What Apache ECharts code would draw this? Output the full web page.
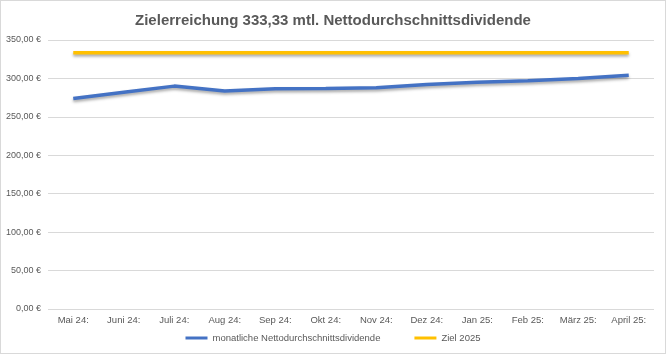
<!DOCTYPE html>
<html>
<head>
<meta charset="utf-8">
<script src="https://cdn.jsdelivr.net/npm/echarts@6/dist/echarts.min.js"></script>
<style>
  html, body { margin: 0; padding: 0; background: #fff; }
  #main { width: 664px; height: 352px; border: 1px solid #d9d9d9; }
</style>
</head>
<body>
<div id="main"></div>
<script>
var months = ['Mai 24:', 'Juni 24:', 'Juli 24:', 'Aug 24:', 'Sep 24:', 'Okt 24:', 'Nov 24:',
    'Dez 24:', 'Jan 25:', 'Feb 25:', 'März 25:', 'April 25:'];
var dividende = [274, 282, 290, 283.5, 286.5, 287, 288, 292, 295, 297, 300, 304];
var ziel = [333.33, 333.33, 333.33, 333.33, 333.33, 333.33, 333.33, 333.33, 333.33, 333.33, 333.33, 333.33];

var font = '"Liberation Sans", sans-serif';
var myChart = echarts.init(document.getElementById('main'));
var option = {
    animation: false,
    title: {
        text: 'Zielerreichung 333,33 mtl. Nettodurchschnittsdividende',
        left: 'center',
        top: 7,
        textStyle: { fontFamily: font, fontSize: 15, fontWeight: 'bold', color: '#595959' }
    },
    legend: {
        bottom: 5,
        left: 'center',
        itemWidth: 22,
        itemHeight: 3,
        itemGap: 34,
        icon: 'rect',
        textStyle: { fontFamily: font, fontSize: 9.5, color: '#595959' },
        data: ['monatliche Nettodurchschnittsdividende', 'Ziel 2025']
    },
    grid: { left: 47, right: 11, top: 39, bottom: 44 },
    xAxis: {
        type: 'category',
        data: months,
        axisLine: { show: false },
        axisTick: { show: false },
        axisLabel: { fontFamily: font, fontSize: 9.5, color: '#595959', margin: 6, interval: 0 }
    },
    yAxis: {
        type: 'value',
        min: 0,
        max: 350,
        interval: 50,
        axisLabel: {
            fontFamily: font, fontSize: 9, color: '#595959', margin: 7,
            formatter: function (v) { return v.toFixed(2).replace('.', ',') + ' €'; }
        },
        splitLine: { lineStyle: { color: '#d9d9d9', width: 1 } }
    },
    series: [
        {
            name: 'monatliche Nettodurchschnittsdividende',
            type: 'line',
            data: dividende,
            symbol: 'none',
            color: '#4472C4',
            lineStyle: { width: 3.5, color: '#4472C4', shadowColor: 'rgba(0,0,0,0.35)', shadowBlur: 3, shadowOffsetY: 2 }
        },
        {
            name: 'Ziel 2025',
            type: 'line',
            data: ziel,
            symbol: 'none',
            color: '#FFC000',
            lineStyle: { width: 3.5, color: '#FFC000', shadowColor: 'rgba(0,0,0,0.35)', shadowBlur: 3, shadowOffsetY: 2 }
        }
    ]
};
myChart.setOption(option);
</script>
</body>
</html>
